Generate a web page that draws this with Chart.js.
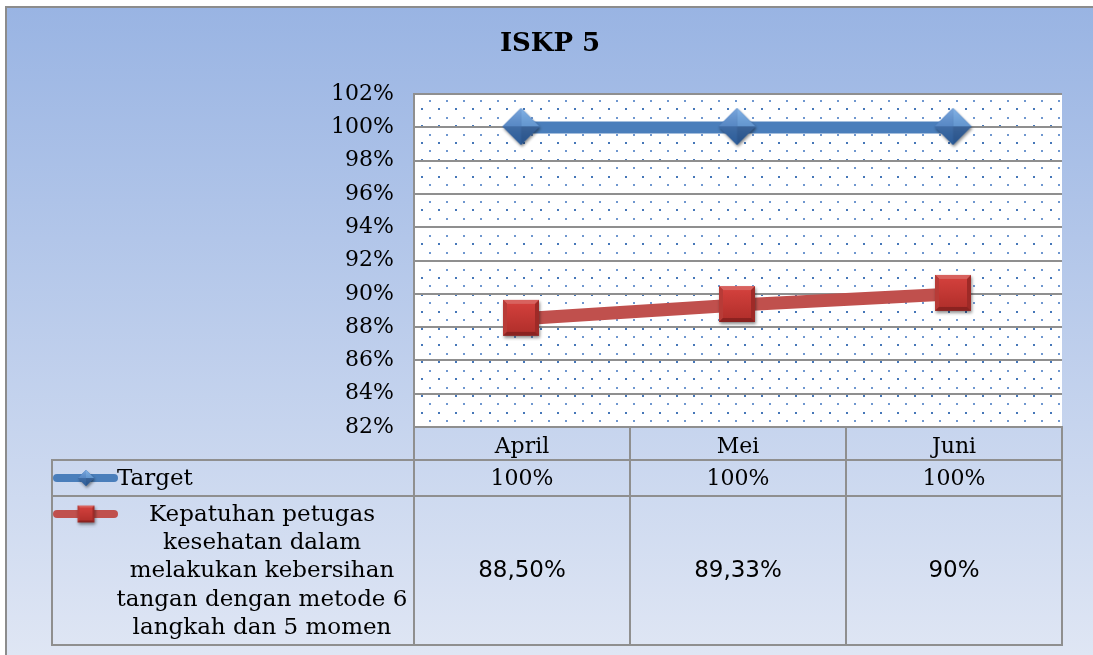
<!DOCTYPE html>
<html lang="id">
<head>
  <meta charset="UTF-8">
  <title>ISKP 5</title>
  <script src="https://cdn.jsdelivr.net/npm/chart.js"></script>
  <style>
    html, body {
      margin: 0;
      padding: 0;
      background: #fff;
    }
    .chart-box {
      width: 1093px;
      height: 655px;
      position: relative;
    }
  </style>
</head>
<body>
  <div class="chart-box">
    <canvas id="iskpChart"></canvas>
  </div>

  <script>
    // data
    const months = ['April', 'Mei', 'Juni'];
    const target = [100, 100, 100];
    const kepatuhan = [88.5, 89.33, 90];
    const targetLabel = 'Target';
    const kepatuhanLabel = [
      'Kepatuhan petugas',
      'kesehatan dalam',
      'melakukan kebersihan',
      'tangan dengan metode 6',
      'langkah dan 5 momen'
    ];
    const yMin = 82, yMax = 102, yStep = 2;

    const BLUE = '#4a7ebb';
    const RED = '#c0504d';
    const GRID = '#8f8f8f';
    const SERIF = '"DejaVu Serif", serif';

    function fmtPct(v) {
      if (Number.isInteger(v)) return v + '%';
      return v.toFixed(2).replace('.', ',') + '%';
    }

    // 3d-ish marker images
    function makeDiamond(size) {
      const c = document.createElement('canvas');
      c.width = size + 8; c.height = size + 8;
      const ctx = c.getContext('2d');
      const m = size / 2, cx = m + 3, cy = m + 3;
      ctx.save();
      ctx.shadowColor = 'rgba(0,0,0,0.45)';
      ctx.shadowBlur = 3;
      ctx.shadowOffsetX = 1;
      ctx.shadowOffsetY = 2;
      ctx.beginPath();
      ctx.moveTo(cx, cy - m); ctx.lineTo(cx + m, cy); ctx.lineTo(cx, cy + m); ctx.lineTo(cx - m, cy);
      ctx.closePath();
      ctx.fillStyle = '#3b6fb0';
      ctx.fill();
      ctx.restore();
      // facets
      const facets = [
        [[cx, cy - m], [cx + m, cy], [cx, cy], '#5d9be0'],
        [[cx, cy - m], [cx - m, cy], [cx, cy], '#4f8ad3'],
        [[cx - m, cy], [cx, cy + m], [cx, cy], '#3369ad'],
        [[cx + m, cy], [cx, cy + m], [cx, cy], '#2d5e9e']
      ];
      facets.forEach(f => {
        ctx.beginPath();
        ctx.moveTo(f[0][0], f[0][1]); ctx.lineTo(f[1][0], f[1][1]); ctx.lineTo(f[2][0], f[2][1]);
        ctx.closePath();
        ctx.fillStyle = f[3];
        ctx.fill();
      });
      const g = ctx.createLinearGradient(0, cy - m, 0, cy + m);
      g.addColorStop(0, 'rgba(255,255,255,0.25)');
      g.addColorStop(1, 'rgba(0,0,0,0.1)');
      ctx.beginPath();
      ctx.moveTo(cx, cy - m); ctx.lineTo(cx + m, cy); ctx.lineTo(cx, cy + m); ctx.lineTo(cx - m, cy);
      ctx.closePath();
      ctx.fillStyle = g;
      ctx.fill();
      return c;
    }

    function makeSquare(size) {
      const c = document.createElement('canvas');
      c.width = size + 8; c.height = size + 8;
      const ctx = c.getContext('2d');
      const x0 = 3, y0 = 3, b = Math.max(2, Math.round(size * 0.1));
      ctx.save();
      ctx.shadowColor = 'rgba(0,0,0,0.45)';
      ctx.shadowBlur = 3;
      ctx.shadowOffsetX = 1;
      ctx.shadowOffsetY = 2;
      ctx.fillStyle = '#9e2a27';
      ctx.fillRect(x0, y0, size, size);
      ctx.restore();
      // bevel edges
      ctx.fillStyle = '#d8625e';
      ctx.beginPath();
      ctx.moveTo(x0, y0); ctx.lineTo(x0 + size, y0); ctx.lineTo(x0 + size - b, y0 + b); ctx.lineTo(x0 + b, y0 + b);
      ctx.closePath(); ctx.fill();
      ctx.fillStyle = '#b83b37';
      ctx.beginPath();
      ctx.moveTo(x0, y0); ctx.lineTo(x0 + b, y0 + b); ctx.lineTo(x0 + b, y0 + size - b); ctx.lineTo(x0, y0 + size);
      ctx.closePath(); ctx.fill();
      ctx.fillStyle = '#8a2220';
      ctx.beginPath();
      ctx.moveTo(x0, y0 + size); ctx.lineTo(x0 + b, y0 + size - b); ctx.lineTo(x0 + size - b, y0 + size - b); ctx.lineTo(x0 + size, y0 + size);
      ctx.closePath(); ctx.fill();
      const g = ctx.createLinearGradient(0, y0 + b, 0, y0 + size - b);
      g.addColorStop(0, '#d2403c');
      g.addColorStop(1, '#b3302c');
      ctx.fillStyle = g;
      ctx.fillRect(x0 + b, y0 + b, size - 2 * b, size - 2 * b);
      return c;
    }

    const diamondBig = makeDiamond(37);
    const squareBig = makeSquare(36);
    const diamondSmall = makeDiamond(16);
    const squareSmall = makeSquare(17);

    // background, plot area fill and dot pattern
    const backdrop = {
      id: 'backdrop',
      beforeDraw(chart) {
        const { ctx, width, height, chartArea: a } = chart;
        ctx.save();
        ctx.fillStyle = '#ffffff';
        ctx.fillRect(0, 0, width, height);
        const g = ctx.createLinearGradient(0, 7, 0, height);
        g.addColorStop(0, '#99b4e3');
        g.addColorStop(1, '#dfe6f4');
        ctx.fillStyle = g;
        ctx.fillRect(6, 7, width - 6, height - 7);
        ctx.fillStyle = '#8c8c8c';
        ctx.fillRect(5, 6, width - 5, 2);
        ctx.fillRect(5, 6, 2, height - 6);

        ctx.fillStyle = '#ffffff';
        ctx.fillRect(a.left, a.top, a.right - a.left, a.bottom - a.top);
        let row = 0;
        for (let y = a.top + 6.7; y < a.bottom - 1; y += 8.43, row++) {
          const light = row % 2 === 0;
          ctx.fillStyle = light ? '#6f97cf' : '#4677b8';
          const x0 = a.left + (light ? 16 : 7.7);
          for (let x = x0; x < a.right - 1; x += 17) {
            ctx.fillRect(Math.round(x) - 1, Math.round(y) - 1, 2, 2);
          }
        }
        ctx.restore();
      }
    };

    // data table below the plot
    const dataTable = {
      id: 'dataTable',
      afterDraw(chart) {
        const { ctx } = chart;
        const xs = chart.scales.x;
        const a = chart.chartArea;
        const colW = (a.right - a.left) / months.length;
        const headBottom = xs.bottom;
        const row1Bottom = headBottom + 36;
        const row2Bottom = row1Bottom + 149;
        const tableLeft = 52;

        ctx.save();
        ctx.strokeStyle = GRID;
        ctx.lineWidth = 2;
        ctx.beginPath();
        // horizontal
        [headBottom, row1Bottom, row2Bottom].forEach(y => {
          ctx.moveTo(tableLeft - 1, y);
          ctx.lineTo(a.right + 1, y);
        });
        // vertical
        ctx.moveTo(tableLeft, headBottom);
        ctx.lineTo(tableLeft, row2Bottom);
        for (let i = 0; i <= months.length; i++) {
          const x = a.left + i * colW;
          ctx.moveTo(x, i === 0 ? a.top : a.bottom);
          ctx.lineTo(x, row2Bottom);
        }
        ctx.stroke();

        // legend keys
        const r1 = (headBottom + row1Bottom) / 2;
        const keyY2 = row1Bottom + 18;
        ctx.lineCap = 'round';
        ctx.lineWidth = 8;
        ctx.strokeStyle = BLUE;
        ctx.beginPath(); ctx.moveTo(57, r1); ctx.lineTo(114, r1); ctx.stroke();
        ctx.drawImage(diamondSmall, 86 - diamondSmall.width / 2 + 1, r1 - diamondSmall.height / 2 + 1);
        ctx.strokeStyle = RED;
        ctx.beginPath(); ctx.moveTo(57, keyY2); ctx.lineTo(114, keyY2); ctx.stroke();
        ctx.drawImage(squareSmall, 86 - squareSmall.width / 2 + 1, keyY2 - squareSmall.height / 2 + 1);

        // row labels
        ctx.fillStyle = '#000';
        ctx.textBaseline = 'middle';
        ctx.font = '23px ' + SERIF;
        ctx.textAlign = 'left';
        ctx.fillText(targetLabel, 117, r1 + 1);
        ctx.textAlign = 'center';
        const r2 = (row1Bottom + row2Bottom) / 2;
        const lh = 28.3;
        kepatuhanLabel.forEach((t, i) => {
          ctx.fillText(t, 262, r2 + (i - (kepatuhanLabel.length - 1) / 2) * lh + 1);
        });

        // values
        months.forEach((m, i) => {
          const cx = xs.getPixelForValue(i);
          ctx.font = '22px ' + SERIF;
          ctx.fillText(fmtPct(target[i]), cx, r1 + 1);
          ctx.font = '23px "DejaVu Sans", sans-serif';
          ctx.fillText(fmtPct(kepatuhan[i]), cx, r2 + 1);
        });
        ctx.restore();
      }
    };

    new Chart(document.getElementById('iskpChart'), {
      type: 'line',
      data: {
        labels: months,
        datasets: [
          {
            label: targetLabel,
            data: target,
            borderColor: BLUE,
            backgroundColor: BLUE,
            borderWidth: 12,
            pointStyle: diamondBig,
            pointRadius: 18,
            fill: false,
            tension: 0
          },
          {
            label: kepatuhanLabel.join(' '),
            data: kepatuhan,
            borderColor: RED,
            backgroundColor: RED,
            borderWidth: 13,
            pointStyle: squareBig,
            pointRadius: 18,
            fill: false,
            tension: 0
          }
        ]
      },
      options: {
        responsive: true,
        maintainAspectRatio: false,
        animation: false,
        layout: {
          padding: { top: 7, left: 36, right: 29, bottom: 195 }
        },
        plugins: {
          legend: { display: false },
          tooltip: { enabled: false },
          title: {
            display: true,
            text: 'ISKP 5',
            color: '#000',
            font: { family: SERIF, size: 26, weight: 'bold' },
            padding: { top: 22, bottom: 34 }
          }
        },
        scales: {
          x: {
            offset: true,
            grid: { display: false, offset: true },
            border: { display: true, color: GRID, width: 2 },
            ticks: {
              color: '#000',
              font: { family: SERIF, size: 22 },
              padding: -1,
              maxRotation: 0
            },
            afterFit(scale) { scale.height = 33; }
          },
          y: {
            min: yMin,
            max: yMax,
            grid: { color: GRID, lineWidth: 2, drawTicks: false },
            border: { display: true, color: GRID, width: 2 },
            ticks: {
              stepSize: yStep,
              color: '#000',
              font: { family: SERIF, size: 22 },
              padding: 20,
              callback: v => v + '%'
            },
            afterFit(scale) { scale.width = 378; }
          }
        }
      },
      plugins: [backdrop, dataTable]
    });
  </script>
</body>
</html>
